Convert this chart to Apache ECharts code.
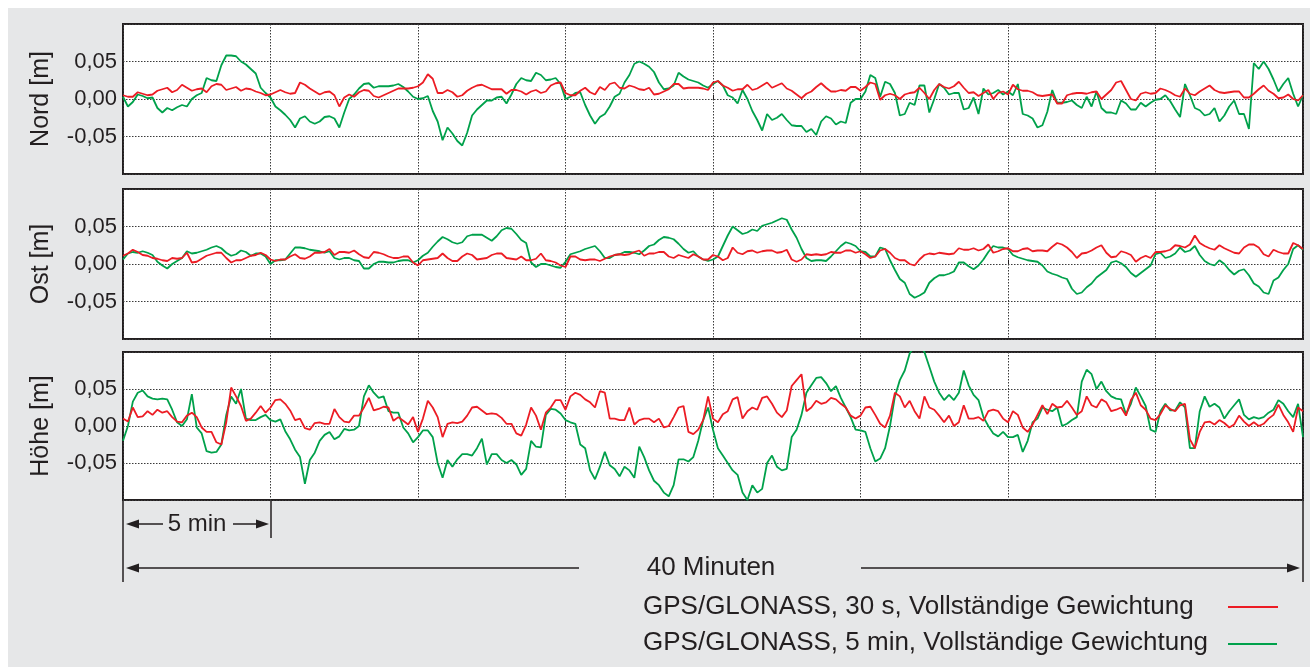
<!DOCTYPE html>
<html lang="de">
<head>
<meta charset="utf-8">
<title>Nord / Ost / Höhe</title>
<script src="https://cdn.jsdelivr.net/npm/echarts@6/dist/echarts.min.js"></script>
<style>
  html, body { margin: 0; padding: 0; background: #fff; }
  #chart { width: 1310px; height: 667px; }
</style>
</head>
<body>
<div id="chart"></div>
<script>
// Abweichungen in mm, ein Wert alle 10 s über 40 Minuten (241 Werte je Reihe)
const nordRot = [
  5, 3, 3, 9, 7, 5, 6, 11, 13, 15, 9, 12, 19, 15, 11, 13, 14, 9, 17, 20,
  19, 12, 14, 16, 11, 14, 13, 10, 8, 5, 6, 9, 12, 9, 7, 8, 22, 19, 14, 10,
  6, 9, 10, 5, -10, 2, 6, 3, 9, 12, 11, 4, 2, 5, 8, 11, 14, 14, 14, 15,
  17, 22, 33, 27, 8, 8, 12, 9, 3, 5, 11, 15, 18, 19, 16, 13, 13, 13, 7, 12,
  12, 10, 6, 10, 12, 8, 10, 18, 21, 22, 8, 5, 5, 11, 15, 9, 6, 16, 12, 20,
  22, 15, 14, 18, 16, 13, 12, 15, 6, 7, 10, 13, 20, 20, 14, 15, 15, 15, 14, 12,
  22, 24, 18, 15, 11, 13, 13, 19, 12, 14, 18, 22, 15, 18, 21, 14, 11, 6, 1, 7,
  10, 16, 21, 15, 10, 10, 12, 11, 16, 16, 11, 16, 22, 20, -1, 5, 7, 5, 0, 6,
  8, 9, 15, 8, 0, 12, 20, 16, 14, 17, 23, 15, 8, 9, 4, 8, 12, 0, 8, 10,
  6, 19, 13, 11, 11, 9, 5, 4, 5, 6, -6, -6, 5, 7, 8, 8, 7, 9, 10, 0,
  6, 12, 22, 24, 12, 0, -2, 7, 9, 7, 8, 14, 12, 9, 5, 3, 14, 7, 5, 10,
  14, 18, 12, 9, 8, 9, 10, 10, 2, 2, 7, 13, 18, 11, 7, 1, 2, 6, 0, -2,
  5
];
const nordGruen = [
  3, -10, -4, 6, 4, 1, 2, -12, -18, -12, -15, -11, -8, -10, 0, 5, 8, 28, 25, 24,
  45, 58, 58, 57, 50, 46, 40, 34, 15, 8, 2, -10, -15, -21, -28, -38, -26, -23, -30, -33,
  -30, -24, -23, -26, -38, -18, 0, 6, 14, 20, 21, 15, 17, 17, 17, 18, 20, 16, 10, 3,
  0, 1, 4, -16, -30, -55, -38, -46, -56, -62, -45, -22, -14, -8, -2, -2, 2, 3, -6, 6,
  20, 28, 25, 24, 35, 32, 25, 26, 28, 20, 0, 3, 8, 9, -8, -22, -33, -24, -20, -10,
  3, 7, 22, 32, 47, 50, 47, 43, 36, 22, 13, 14, 18, 35, 30, 26, 24, 22, 18, 15,
  20, 24, 18, 5, 2, -6, 12, 0, -16, -28, -42, -20, -28, -25, -20, -28, -35, -36, -36, -44,
  -40, -48, -30, -23, -26, -34, -30, -32, -5, 0, 0, 10, 32, 28, 3, 23, 20, 8, -22, -20,
  -5, -8, 18, 18, -18, 0, 20, 15, 6, 8, 8, -14, -12, 2, -20, 14, 6, 8, 12, 6,
  10, 5, 20, -20, -22, -26, -38, -35, -17, 12, -5, -5, -4, -2, -8, -12, 3, -10, 10, -12,
  -18, -18, -20, -2, -6, -14, -14, -5, -10, -5, -1, 0, 5, -3, -14, -24, 20, 5, -12, -15,
  -22, -20, -12, -30, -22, -10, -2, -20, -20, -40, 48, 40, 50, 40, 26, 10, 20, 28, 7, -10,
  5
];
const ostRot = [
  11, 14, 19, 16, 12, 11, 8, 7, 5, 4, 8, 7, 8, 15, 2, 3, 7, 11, 13, 15,
  15, 8, 2, 5, 5, 8, 11, 12, 15, 12, 6, 4, 6, 6, 10, 13, 8, 7, 10, 15,
  15, 16, 20, 12, 16, 16, 15, 18, 13, 9, 8, 16, 15, 13, 10, 8, 8, 10, 10, 2,
  -2, 5, 6, 7, 8, 14, 8, 4, 4, 10, 14, 12, 6, 7, 8, 12, 14, 14, 8, 7,
  6, 10, 5, 5, 7, 14, 5, 4, 2, -2, -4, 10, 10, 6, 5, 6, 6, 4, 7, 10,
  12, 13, 12, 13, 16, 18, 11, 14, 14, 16, 16, 10, 8, 12, 10, 8, 13, 10, 6, 6,
  12, 10, 5, 8, 22, 15, 13, 17, 18, 15, 17, 18, 18, 15, 16, 19, 6, 3, 6, 13,
  12, 13, 12, 13, 16, 15, 15, 18, 18, 15, 17, 13, 8, 10, 18, 20, 15, 8, 5, 5,
  0, -2, 6, 12, 14, 13, 15, 14, 13, 14, 21, 19, 19, 21, 18, 20, 26, 15, 17, 20,
  21, 17, 17, 20, 21, 17, 18, 18, 17, 23, 28, 26, 22, 16, 8, 14, 15, 18, 22, 25,
  15, 9, 10, 17, 15, 12, 3, 8, 11, 8, 16, 16, 17, 19, 25, 24, 22, 26, 38, 28,
  24, 21, 19, 25, 21, 18, 15, 14, 22, 26, 26, 22, 13, 10, 19, 16, 14, 14, 28, 25,
  20
];
const ostGruen = [
  6, 14, 16, 15, 17, 15, 12, 3, -2, -6, 0, 4, 8, 17, 14, 15, 17, 19, 22, 24,
  21, 15, 11, 13, 18, 16, 11, 14, 14, 10, 0, 5, 5, 6, 14, 22, 22, 21, 19, 18,
  17, 15, 17, 8, 6, 8, 8, 5, 4, -6, -6, 0, 3, 3, 2, 2, 4, 5, 5, 2,
  5, 11, 15, 23, 30, 36, 33, 29, 27, 29, 37, 39, 39, 39, 35, 31, 37, 45, 48, 47,
  40, 32, 28, 2, -4, 0, 0, -2, -4, -5, 3, 13, 15, 17, 20, 22, 24, 17, 8, 8,
  12, 13, 16, 16, 15, 13, 18, 24, 26, 32, 36, 35, 33, 27, 20, 15, 17, 10, 6, 4,
  6, 10, 24, 38, 50, 45, 40, 42, 46, 44, 51, 53, 55, 58, 61, 59, 46, 35, 20, 8,
  4, 5, 5, 4, 10, 17, 24, 29, 27, 24, 17, 16, 10, 10, 22, 20, 5, -8, -20, -25,
  -40, -45, -42, -38, -25, -19, -15, -15, -13, -10, 2, 2, -3, -7, -2, 6, 16, 24, 22, 22,
  20, 12, 9, 7, 5, 4, 3, -2, -10, -13, -15, -18, -20, -33, -40, -38, -31, -26, -18, -13,
  -8, 2, 4, 1, -4, -12, -17, -12, -7, -2, 13, 15, 8, 10, 14, 22, 16, 18, 24, 12,
  4, 0, -2, 5, 0, -8, -14, -9, -7, -15, -26, -30, -38, -40, -22, -18, -8, 0, 20, 25,
  19
];
const hoeheRot = [
  10, 6, 25, 12, 13, 20, 15, 22, 18, 20, 12, 6, 5, 14, 18, 12, -2, -8, -8, -22,
  -25, 5, 52, 40, 27, 7, 10, 18, 27, 18, 25, 35, 36, 30, 21, 8, 10, -3, -5, 4,
  5, 3, 3, 23, 12, 6, 5, 14, 14, 25, 38, 21, 23, 26, 25, 7, 12, 7, 2, 12,
  -8, 10, 34, 25, 12, -15, 3, 5, 4, 6, 14, 25, 26, 21, 16, 17, 16, 11, 3, 3,
  -10, -13, 2, 25, 14, -5, 18, 25, 35, 35, 22, 40, 45, 42, 36, 32, 25, 47, 45, 10,
  10, 8, 8, 25, 2, 8, 10, 10, 5, 10, -2, 0, 12, 25, 27, -8, -11, -5, 8, 40,
  10, 5, 16, 20, 36, 39, 10, 20, 25, 22, 38, 40, 30, 18, 12, 21, 54, 62, 70, 20,
  25, 34, 30, 32, 38, 36, 30, 25, 14, 10, 14, 25, 26, 15, 3, -2, 14, 45, 40, 25,
  34, 20, 10, 40, 25, 22, 14, 5, 14, 0, 5, 28, 10, 10, 12, 7, 20, 22, 20, 10,
  5, 20, 15, -2, -8, 2, 15, 28, 16, 30, 25, 26, 34, 25, 15, 20, 40, 28, 25, 36,
  32, 20, 22, 25, 14, 35, 45, 28, 22, 10, 8, 16, 28, 23, 20, 28, 30, -18, -30, -8,
  5, 6, 2, 8, 4, -2, 2, 14, 6, 0, 5, 0, 3, 10, 15, 29, 15, 5, -8, 25,
  20
];
const hoeheGruen = [
  -20, 0, 33, 45, 48, 40, 37, 36, 37, 36, 22, 5, 0, 9, 43, -2, -10, -34, -36, -35,
  -25, 15, 40, 30, 50, 10, 8, 8, 12, 15, 8, 6, 9, -7, -18, -32, -42, -78, -46, -36,
  -20, -12, -8, -18, -14, -4, -6, -5, 0, 40, 55, 45, 38, 40, 20, 18, 18, -2, -10, -22,
  -15, -6, -6, -15, -50, -70, -46, -55, -45, -38, -38, -40, -30, -17, -52, -38, -38, -46, -50, -46,
  -52, -66, -58, -20, -28, -29, 15, 23, 22, 17, 8, 5, 3, -25, -30, -60, -72, -55, -35, -53,
  -58, -68, -55, -60, -70, -28, -42, -60, -74, -80, -90, -95, -80, -45, -45, -48, -42, -20, 8, 25,
  -5, -30, -40, -50, -60, -66, -90, -100, -80, -90, -85, -50, -40, -55, -60, -58, -15, -5, 15, 45,
  55, 65, 66, 58, 47, 54, 38, 25, 12, -5, -6, -8, -30, -48, -44, -30, 0, 40, 62, 75,
  98, 108, 110, 100, 80, 60, 45, 35, 42, 35, 45, 75, 55, 42, 35, 12, 0, -10, -14, -8,
  -15, -15, -12, -35, -20, 5, 10, 25, 22, 20, 25, 0, 3, 8, 12, 60, 76, 70, 50, 60,
  47, 40, 37, 36, 16, 30, 52, 40, 27, -5, -8, 20, 30, 21, 21, 32, 25, -30, -30, 20,
  40, 26, 30, 25, 10, 20, 28, 36, 15, 9, 12, 10, 12, 18, 22, 35, 30, 20, 12, 30,
  -15
];

// Zeitpunkte in Minuten (Abstand 10 s)
const zeit = nordRot.map((_, i) => i / 6);

const panelNamen = ['Nord [m]', 'Ost [m]', 'Höhe [m]'];
const tickLabels = { '-50': '-0,05', '0': '0,00', '50': '0,05' };

const name30s = 'GPS/GLONASS, 30 s, Vollständige Gewichtung';
const name5min = 'GPS/GLONASS, 5 min, Vollständige Gewichtung';

const ROT = '#ec1c24';
const GRUEN = '#00a14b';
const TEXT = '#231f20';
const FONT = '"Liberation Sans", Arial, Helvetica, sans-serif';

const gridTops = [24, 189, 352];
const gridHeights = [150, 150, 148];

function reihe(name, farbe, werte, idx, z) {
  return {
    name: name,
    type: 'line',
    xAxisIndex: idx,
    yAxisIndex: idx,
    data: werte.map((v, i) => [zeit[i], v]),
    symbol: 'none',
    showSymbol: false,
    z: z,
    lineStyle: { color: farbe, width: 1.8 },
    itemStyle: { color: farbe },
    emphasis: { disabled: true }
  };
}

const punktLinie = { color: '#3a3a3a', width: 1, type: [1.5, 1.5] };
const strich = { stroke: TEXT, lineWidth: 1.5 };

const chart = echarts.init(document.getElementById('chart'), null, { renderer: 'canvas' });

const option = {
  animation: false,
  backgroundColor: '#e6e7e8',
  textStyle: { fontFamily: FONT, color: TEXT },
  grid: gridTops.map((t, k) => ({
    left: 123, top: t, width: 1180, height: gridHeights[k],
    show: true, backgroundColor: '#fff', borderColor: TEXT, borderWidth: 2
  })),
  xAxis: gridTops.map((t, k) => ({
    type: 'value', gridIndex: k, min: 0, max: 40, interval: 5,
    axisLine: { show: false },
    axisTick: { show: true, inside: true, length: 4, lineStyle: { color: TEXT, width: 1 } },
    axisLabel: { show: false },
    splitLine: { show: true, lineStyle: punktLinie }
  })),
  yAxis: gridTops.map((t, k) => ({
    type: 'value', gridIndex: k, min: -100, max: 100, interval: 50,
    name: panelNamen[k], nameLocation: 'middle', nameGap: 69,
    nameTextStyle: { fontSize: 25, color: TEXT, fontFamily: FONT },
    axisLine: { show: false },
    axisTick: { show: false },
    axisLabel: {
      fontSize: 22, color: TEXT, fontFamily: FONT, margin: 6,
      formatter: v => tickLabels[String(v)] || ''
    },
    splitLine: { show: true, lineStyle: punktLinie }
  })),
  series: [
    reihe(name30s, ROT, nordRot, 0, 3),
    reihe(name5min, GRUEN, nordGruen, 0, 2),
    reihe(name30s, ROT, ostRot, 1, 3),
    reihe(name5min, GRUEN, ostGruen, 1, 2),
    reihe(name30s, ROT, hoeheRot, 2, 3),
    reihe(name5min, GRUEN, hoeheGruen, 2, 2)
  ],
  graphic: [
    // weisser Rand oben und links
    { type: 'rect', shape: { x: 0, y: 0, width: 1310, height: 8 }, style: { fill: '#fff' }, silent: true },
    { type: 'rect', shape: { x: 0, y: 0, width: 8, height: 667 }, style: { fill: '#fff' }, silent: true },
    // Masslinien unter dem Diagramm
    { type: 'line', shape: { x1: 123, y1: 500, x2: 123, y2: 582 }, style: strich, silent: true },
    { type: 'line', shape: { x1: 271, y1: 500, x2: 271, y2: 538 }, style: strich, silent: true },
    { type: 'line', shape: { x1: 1303, y1: 500, x2: 1303, y2: 582 }, style: strich, silent: true },
    { type: 'line', shape: { x1: 134, y1: 524, x2: 163, y2: 524 }, style: strich, silent: true },
    { type: 'polygon', shape: { points: [[126, 524], [139, 519.5], [139, 528.5]] }, style: { fill: TEXT }, silent: true },
    { type: 'line', shape: { x1: 233, y1: 524, x2: 262, y2: 524 }, style: strich, silent: true },
    { type: 'polygon', shape: { points: [[269, 524], [256, 519.5], [256, 528.5]] }, style: { fill: TEXT }, silent: true },
    { type: 'text', style: { text: '5 min', x: 197, y: 524, align: 'center', verticalAlign: 'middle', fontSize: 24, fontFamily: FONT, fill: TEXT }, silent: true },
    { type: 'line', shape: { x1: 134, y1: 568, x2: 579, y2: 568 }, style: strich, silent: true },
    { type: 'polygon', shape: { points: [[126, 568], [139, 563.5], [139, 572.5]] }, style: { fill: TEXT }, silent: true },
    { type: 'line', shape: { x1: 861, y1: 568, x2: 1292, y2: 568 }, style: strich, silent: true },
    { type: 'polygon', shape: { points: [[1300, 568], [1287, 563.5], [1287, 572.5]] }, style: { fill: TEXT }, silent: true },
    { type: 'text', style: { text: '40 Minuten', x: 711, y: 568, align: 'center', verticalAlign: 'middle', fontSize: 26, fontFamily: FONT, fill: TEXT }, silent: true },
    // Legende
    { type: 'text', style: { text: name30s, x: 643, y: 607, align: 'left', verticalAlign: 'middle', fontSize: 26, fontFamily: FONT, fill: TEXT }, silent: true },
    { type: 'line', shape: { x1: 1228, y1: 607, x2: 1278, y2: 607 }, style: { stroke: ROT, lineWidth: 2 }, silent: true },
    { type: 'text', style: { text: name5min, x: 643, y: 643, align: 'left', verticalAlign: 'middle', fontSize: 26, fontFamily: FONT, fill: TEXT }, silent: true },
    { type: 'line', shape: { x1: 1228, y1: 644, x2: 1277, y2: 644 }, style: { stroke: GRUEN, lineWidth: 2 }, silent: true }
  ]
};

chart.setOption(option);
</script>
</body>
</html>
